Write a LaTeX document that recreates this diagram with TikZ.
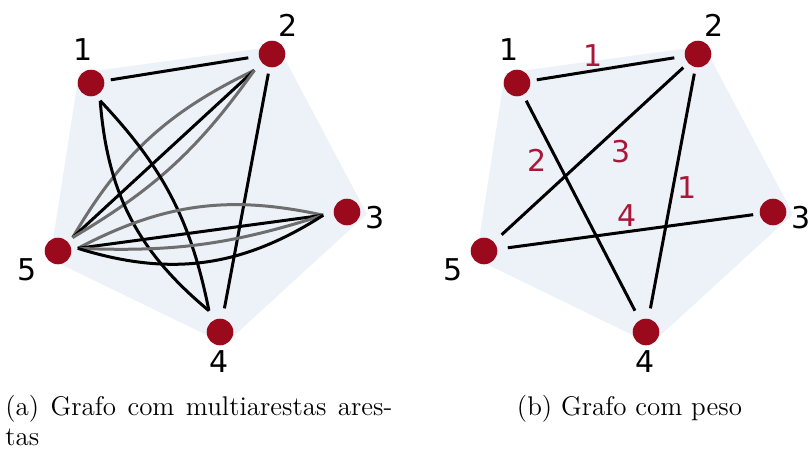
\documentclass[tikz,border=0pt]{standalone}
\usepackage{fontspec}
\usepackage{tikz}
\usetikzlibrary{calc}
\newfontfamily\graphfont{DejaVu Sans}
\definecolor{vred}{RGB}{155,10,28}
\definecolor{wred}{RGB}{168,24,56}
\definecolor{egray}{RGB}{110,110,110}
\definecolor{hullblue}{RGB}{237,242,249}

\begin{document}
\begin{tikzpicture}[x=0.5pt, y=-0.5pt,
  vtx/.style={circle, fill=vred, minimum size=13.3pt, inner sep=0pt},
  num/.style={font=\graphfont\fontsize{15}{18}\selectfont, inner sep=0pt},
  wt/.style={num, text=wred},
  edg/.style={line width=1.5pt},
  captxt/.style={font=\fontsize{13.5}{15}\selectfont, inner sep=0pt}]
  \useasboundingbox (0,0) rectangle (809,450);
  % both graphs share the same layout
  \foreach \g/\dx in {a/0pt, b/213pt} {
    \begin{scope}[xshift=\dx]
      \fill[hullblue] (79,73) -- (278,46) -- (367,214) -- (225,344) -- (50,259) -- cycle;
      \foreach \i/\x/\y/\lx/\ly in {1/91/83/83/50, 2/272/54/288/25, 3/347/212/375/218,
                                   4/220/332/219/362, 5/58/251/27/270} {
        \node[vtx] (\g\i) at (\x,\y) {};
        \node[num] (\g l\i) at (\lx,\ly) {\i};
      }
    \end{scope}
  }
  % multigraph
  \foreach \u/\v/\b/\c in {a1/a2/0/black, a5/a2/17/egray, a5/a2/0/black, a5/a2/-12/egray,
                           a2/a4/0/black, a1/a4/16/black, a1/a4/-23/black,
                           a5/a3/20/egray, a5/a3/0/black, a5/a3/-10/egray, a5/a3/-25/black}
    \draw[edg, draw=\c] ($(\u)!10pt!(\v)$) to[bend left=\b] ($(\v)!12pt!(\u)$);
  % weighted graph
  \foreach \u/\v in {b1/b2, b1/b4, b2/b5, b2/b4, b3/b5}
    \draw[edg] ($(\u)!10pt!(\v)$) -- ($(\v)!12pt!(\u)$);
  \node[wt] (w12) at (593,56) {1};
  \node[wt] (w14) at (537,160) {2};
  \node[wt] (w25) at (621,152) {3};
  \node[wt] (w24) at (687,188) {1};
  \node[wt] (w35) at (627,216) {4};
  % captions
  \node[captxt, anchor=base west] (capa) at (5,415) {\makebox[193.5pt][s]{(a) Grafo com multiarestas ares-}};
  \node[captxt, anchor=base west] (capa2) at (5,445) {tas};
  \node[captxt, anchor=base] (capb) at (629.5,415) {(b) Grafo com peso};
\end{tikzpicture}
\end{document}
